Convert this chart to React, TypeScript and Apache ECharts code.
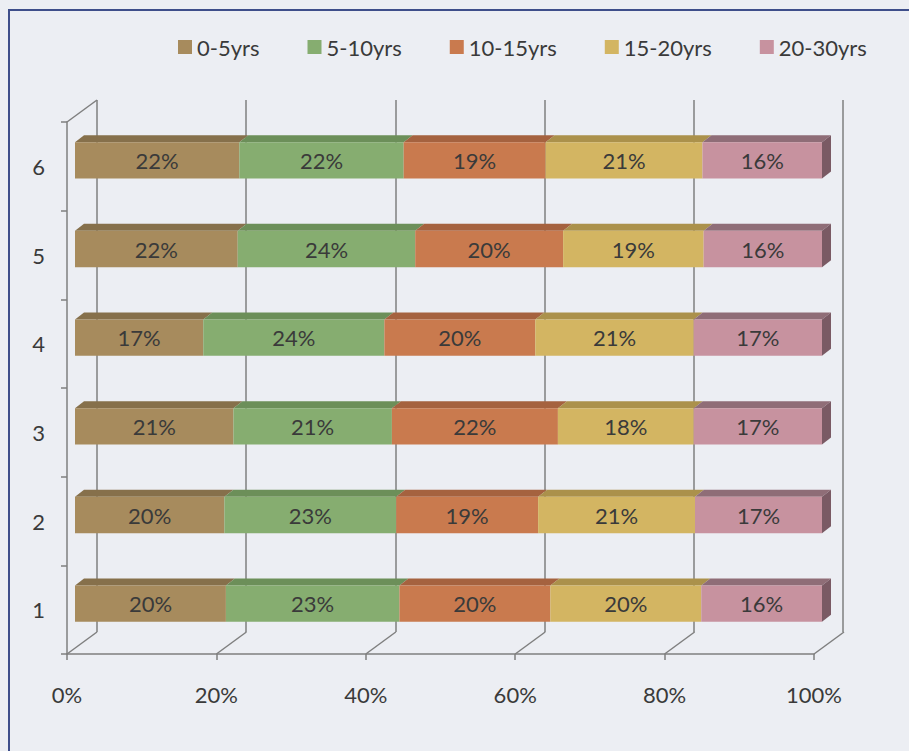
import React, { useEffect, useRef } from "react";
import * as echarts from "echarts";

// Categories (rows, bottom to top) and age groups
const rows = ["1", "2", "3", "4", "5", "6"];
const groups = ["0-5yrs", "5-10yrs", "10-15yrs", "15-20yrs", "20-30yrs"];

// Share of each age group per row (%), bottom row first
const age0to5 = [20, 20, 21, 17, 22, 22];
const age5to10 = [23, 23, 21, 24, 24, 22];
const age10to15 = [20, 19, 22, 20, 20, 19];
const age15to20 = [20, 21, 18, 21, 19, 21];
const age20to30 = [16, 17, 17, 17, 16, 16];

const xTicks = [0, 20, 40, 60, 80, 100];

const groupValues = [age0to5, age5to10, age10to15, age15to20, age20to30];

// Face colours: front, top, side
const frontColors = ["#a78b5d", "#86ad70", "#c97a4e", "#d3b562", "#c7929f"];
const topColors = ["#86704b", "#6c8f59", "#a5623f", "#ab914b", "#8f6d77"];
const sideColors = ["#6e5c3e", "#5a7a4a", "#8a5234", "#8f783c", "#7a5a64"];

const TEXT = "#3a3a3a";
const AXIS = "#7f7f7f";
const FONT = "Lato";
const FONT_SIZE = 22;

// Bar plane offset from the front plane, and bar depth
const BAR_DX = 8;
const BAR_DY = -6;
const DEPTH_X = 9;
const DEPTH_Y = -7;
// Depth of the whole plot box (floor front edge to back wall)
const BOX_DX = 30;
const BOX_DY = -22;

function buildSegments() {
  // 100% stacked: each row is normalised by its own total
  const out: number[][][] = groups.map(() => []);
  rows.forEach((_, r) => {
    const total = groupValues.reduce((s, g) => s + g[r], 0);
    let acc = 0;
    groupValues.forEach((g, gi) => {
      const start = (acc / total) * 100;
      acc += g[r];
      const end = (acc / total) * 100;
      out[gi].push([start, end, r, g[r]]);
    });
  });
  return out;
}

export default function App() {
  const ref = useRef<HTMLDivElement>(null);

  useEffect(() => {
    if (!ref.current) return;
    const chart = echarts.init(ref.current, null, { renderer: "svg" });
    const segments = buildSegments();

    const barSeries = groups.map((name, gi) => ({
      name,
      type: "custom",
      xAxisIndex: 0,
      yAxisIndex: 0,
      itemStyle: { color: frontColors[gi] },
      encode: { x: [0, 1], y: 2 },
      z: 10 + gi,
      data: segments[gi],
      renderItem: (params: any, api: any) => {
        const start = api.value(0);
        const end = api.value(1);
        const row = api.value(2);
        const val = api.value(3);
        const p0 = api.coord([start, row]);
        const p1 = api.coord([end, row]);
        const band = api.size([0, 1])[1];
        const h = band * 0.41;
        const x0 = p0[0] + BAR_DX;
        const x1 = p1[0] + BAR_DX;
        const yT = p0[1] + BAR_DY - h / 2;
        const yB = yT + h;
        const children: any[] = [
          {
            type: "polygon",
            shape: {
              points: [
                [x0, yT],
                [x1, yT],
                [x1 + DEPTH_X, yT + DEPTH_Y],
                [x0 + DEPTH_X, yT + DEPTH_Y],
              ],
            },
            style: { fill: topColors[gi] },
          },
          {
            type: "rect",
            shape: { x: x0, y: yT, width: x1 - x0, height: h },
            style: { fill: frontColors[gi] },
          },
        ];
        if (gi === groups.length - 1) {
          children.push({
            type: "polygon",
            shape: {
              points: [
                [x1, yT],
                [x1 + DEPTH_X, yT + DEPTH_Y],
                [x1 + DEPTH_X, yB + DEPTH_Y],
                [x1, yB],
              ],
            },
            style: { fill: sideColors[gi] },
          });
        }
        children.push({
          type: "text",
          style: {
            text: val + "%",
            x: (x0 + x1) / 2,
            y: (yT + yB) / 2,
            align: "center",
            verticalAlign: "middle",
            fill: TEXT,
            fontSize: FONT_SIZE,
            fontFamily: FONT,
          },
        });
        return { type: "group", children };
      },
    }));

    // Floor edges running from each front tick back to the wall
    const floorEdges = {
      type: "custom",
      xAxisIndex: 0,
      yAxisIndex: 0,
      silent: true,
      z: 2,
      data: xTicks.map((v) => [v, 0]),
      renderItem: (params: any, api: any) => {
        const p = api.coord([api.value(0), api.value(1)]);
        const band = api.size([0, 1])[1];
        const y = p[1] + band / 2;
        return {
          type: "line",
          shape: { x1: p[0], y1: y, x2: p[0] + BOX_DX, y2: y + BOX_DY },
          style: { stroke: AXIS, lineWidth: 1.5 },
        };
      },
    };

    // Top edge of the side wall
    const wallEdge = {
      type: "custom",
      xAxisIndex: 0,
      yAxisIndex: 0,
      silent: true,
      z: 2,
      data: [[0, rows.length - 1]],
      renderItem: (params: any, api: any) => {
        const p = api.coord([api.value(0), api.value(1)]);
        const band = api.size([0, 1])[1];
        const y = p[1] - band / 2;
        return {
          type: "line",
          shape: { x1: p[0], y1: y, x2: p[0] + BOX_DX, y2: y + BOX_DY },
          style: { stroke: AXIS, lineWidth: 1.5 },
        };
      },
    };

    const option: any = {
      animation: false,
      backgroundColor: "#eceef3",
      textStyle: { fontFamily: FONT },
      graphic: [
        {
          type: "rect",
          silent: true,
          z: -1,
          shape: { x: 9, y: 10, width: 1000, height: 1000 },
          style: { fill: "none", stroke: "#3e4e8a", lineWidth: 2 },
        },
      ],
      legend: {
        data: groups,
        left: 173,
        top: 31,
        itemWidth: 14,
        itemHeight: 14,
        itemGap: 48,
        icon: "rect",
        textStyle: { color: TEXT, fontSize: FONT_SIZE, fontFamily: FONT },
      },
      grid: [
        { left: 67, top: 122, width: 747, height: 532 },
        { left: 67 + BOX_DX, top: 122 + BOX_DY, width: 746, height: 532 },
      ],
      xAxis: [
        {
          gridIndex: 0,
          type: "value",
          min: 0,
          max: 100,
          interval: 20,
          axisLine: { show: true, lineStyle: { color: AXIS, width: 1.5 } },
          axisTick: { show: true, length: 6, lineStyle: { color: AXIS, width: 1.5 } },
          splitLine: { show: false },
          axisLabel: {
            formatter: "{value}%",
            color: TEXT,
            fontSize: FONT_SIZE,
            fontFamily: FONT,
            margin: 29,
          },
        },
        {
          gridIndex: 1,
          type: "value",
          min: 0,
          max: 100,
          interval: 20,
          axisLine: { show: false },
          axisTick: { show: false },
          axisLabel: { show: false },
          splitLine: {
            show: true,
            showMinLine: true,
            showMaxLine: true,
            lineStyle: { color: AXIS, width: 1.5 },
          },
        },
      ],
      yAxis: [
        {
          gridIndex: 0,
          type: "category",
          data: rows,
          axisLine: { show: true, lineStyle: { color: AXIS, width: 1.5 } },
          axisTick: { show: true, length: 6, lineStyle: { color: AXIS, width: 1.5 } },
          axisLabel: { color: TEXT, fontSize: FONT_SIZE, fontFamily: FONT, margin: 22 },
          splitLine: { show: false },
        },
        {
          gridIndex: 1,
          type: "value",
          show: false,
          splitLine: { show: false },
        },
      ],
      series: [floorEdges, wallEdge, ...barSeries],
    };

    chart.setOption(option);
    return () => chart.dispose();
  }, []);

  return (
    <div
      ref={ref}
      style={{ position: "fixed", left: 0, top: 0, width: 909, height: 751 }}
    />
  );
}
